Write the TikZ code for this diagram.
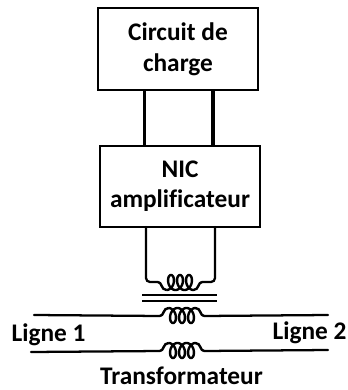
\documentclass[tikz,border=0pt]{standalone}
\usepackage{fontspec}
\setmainfont[Ligatures=NoCommon]{Carlito}
\usetikzlibrary{positioning}

\begin{document}
\begin{tikzpicture}[
  x=0.75pt,y=-0.75pt,
  node distance=40.5pt,
  blockbox/.style={draw,line width=1.5pt,rectangle,align=center,inner sep=0pt,minimum width=120pt,minimum height=61pt,font=\fontsize{19}{23}\selectfont\bfseries},
  label/.style={font=\fontsize{19}{23}\selectfont\bfseries,inner sep=0pt},
  wire/.style={line width=2.3pt},
  line/.style={line width=1.7pt,line cap=round},
  pics/coil/.style={code={
    \draw[line width=1.8pt] (-22,0) .. controls (-18,0) and (-19,-8) .. (-13.5,-8)
      plot[domain=-180:900,samples=120,smooth] ({-13.5+(\x+180)/40-5*sin(\x)},{-0.5+7.5*cos(\x)})
      .. controls (19,-8) and (18,0) .. (22,0);
    \coordinate (-w) at (-22,0);
    \coordinate (-e) at (22,0);
  }}
]
  \useasboundingbox (0,0) rectangle (348,390);
  \node (charge) [blockbox] at (178,49) {Circuit de\\charge};
  \node (nic) [blockbox,below=of charge,xshift=1.5pt] {NIC\\amplificateur};

  \coordinate (wirea) at (144.5,0);
  \coordinate (wireb) at (213,0);
  \draw[wire] (wirea |- charge.south)--(wirea |- nic.north);
  \draw[wire] (wireb |- charge.south)--(wireb |- nic.north);

  \pic (primary) [yscale=-1] at (180,282) {coil};
  \draw[line,rounded corners=3pt] (146,227)--(146,282)--(primary-w);
  \draw[line,rounded corners=3pt] (215,227)--(215,282)--(primary-e);

  % noyau
  \coordinate (corea) at (142,295);
  \coordinate (coreb) at (217,295);
  \coordinate (corec) at (142,301);
  \coordinate (cored) at (217,301);
  \draw[line width=1.2pt] (corea)--(coreb);
  \draw[line width=1.2pt] (corec)--(cored);

  \pic (linea) at (182,316) {coil};
  \pic (lineb) at (182,351) {coil};
  \coordinate (lineaw) at (34,315);
  \coordinate (lineae) at (328,315);
  \coordinate (linebw) at (31,352);
  \coordinate (linebe) at (328,350);
  \draw[line] (lineaw)--(linea-w);
  \draw[line] (linea-e)--(lineae);
  \draw[line] (linebw)--(lineb-w);
  \draw[line] (lineb-e)--(linebe);

  \node (lignea) [label] at (48.5,335) {Ligne 1};
  \node (ligneb) [label] at (309.5,333) {Ligne 2};
  \node (transfo) [label] at (181.5,376) {Transformateur};
\end{tikzpicture}
\end{document}
